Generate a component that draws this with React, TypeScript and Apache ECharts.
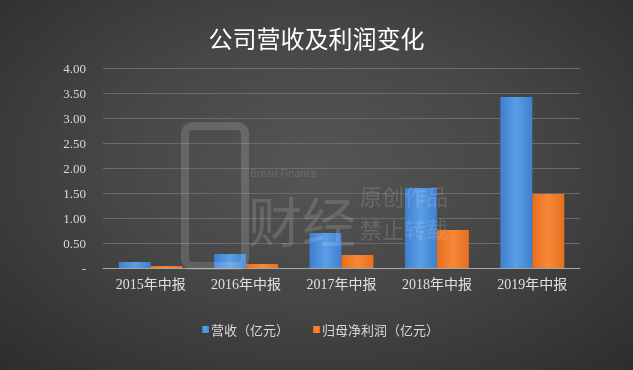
import React, { useEffect, useRef } from "react";
import * as echarts from "echarts";

const categories = ["2015年中报", "2016年中报", "2017年中报", "2018年中报", "2019年中报"];
const revenue = [0.12, 0.28, 0.7, 1.6, 3.42];
const profit = [0.04, 0.08, 0.26, 0.76, 1.48];
const seriesNames = ["营收（亿元）", "归母净利润（亿元）"];
const titleText = "公司营收及利润变化";

export default function App() {
  const ref = useRef<HTMLDivElement>(null);
  useEffect(() => {
    if (!ref.current) return;
    const chart = echarts.init(ref.current, undefined, { renderer: "svg" });
    const wm = "rgba(255,255,255,0.14)";
    chart.setOption({
      animation: false,
      backgroundColor: "transparent",
      title: {
        text: titleText,
        left: "center",
        top: 20,
        textStyle: {
          color: "#ffffff",
          fontSize: 24,
          fontWeight: "normal",
          fontFamily: "Noto Sans CJK SC",
        },
      },
      legend: {
        left: 197,
        top: 318,
        itemWidth: 7,
        itemHeight: 7,
        itemGap: 24,
        icon: "rect",
        textStyle: { color: "#d8d8d8", fontSize: 13, fontFamily: "Noto Sans CJK SC", padding: [0, 0, 0, -3] },
        data: seriesNames,
      },
      grid: { left: 103, right: 53, top: 68, bottom: 102 },
      xAxis: {
        type: "category",
        data: categories,
        axisTick: { show: false },
        axisLine: { lineStyle: { color: "#a6a6a6", width: 1 } },
        axisLabel: {
          color: "#e0e0e0",
          fontSize: 14,
          margin: 9,
          fontFamily: "Liberation Serif, Noto Sans CJK SC",
        },
      },
      yAxis: {
        type: "value",
        min: 0,
        max: 4,
        interval: 0.5,
        axisLine: { show: false },
        axisTick: { show: false },
        splitLine: { lineStyle: { color: "#6a6a6a", width: 1 } },
        axisLabel: {
          color: "#d8d8d8",
          fontSize: 13,
          margin: 17,
          fontFamily: "Liberation Serif",
          formatter: (v: number) => (v === 0 ? "-" : v.toFixed(2)),
        },
      },
      graphic: [
        {
          type: "rect",
          z: 100,
          shape: { x: 185, y: 126, width: 60, height: 140, r: 8 },
          style: { fill: "none", stroke: wm, lineWidth: 8 },
        },
        {
          type: "text",
          z: 100,
          left: 250,
          top: 168,
          style: { text: "Bread Finance", fill: wm, fontSize: 10, fontFamily: "Noto Sans" },
        },
        {
          type: "text",
          z: 100,
          left: 248,
          top: 192,
          style: { text: "财经", fill: wm, fontSize: 54, fontFamily: "Noto Sans CJK SC" },
        },
        {
          type: "text",
          z: 100,
          left: 360,
          top: 184,
          style: { text: "原创作品", fill: wm, fontSize: 22, fontFamily: "Noto Sans CJK SC" },
        },
        {
          type: "text",
          z: 100,
          left: 360,
          top: 217,
          style: { text: "禁止转载", fill: wm, fontSize: 22, fontFamily: "Noto Sans CJK SC" },
        },
      ],
      series: [
        {
          name: seriesNames[0],
          type: "bar",
          data: revenue,
          barGap: "0%",
          barCategoryGap: "33%",
          itemStyle: {
            color: new echarts.graphic.LinearGradient(0, 0, 1, 0, [
              { offset: 0, color: "#3f7fcf" },
              { offset: 0.5, color: "#5b9fe6" },
              { offset: 1, color: "#3f7fcf" },
            ]),
          },
        },
        {
          name: seriesNames[1],
          type: "bar",
          data: profit,
          itemStyle: {
            color: new echarts.graphic.LinearGradient(0, 0, 1, 0, [
              { offset: 0, color: "#e66f1e" },
              { offset: 0.5, color: "#f7883a" },
              { offset: 1, color: "#e66f1e" },
            ]),
          },
        },
      ],
    });
    return () => chart.dispose();
  }, []);
  return (
    <div
      style={{
        position: "fixed",
        left: 0,
        top: 0,
        width: 633,
        height: 370,
        background: "radial-gradient(ellipse at 50% 45%, #555555 0%, #474747 45%, #2d2d2d 100%)",
      }}
    >
      <div ref={ref} style={{ width: 633, height: 370 }} />
    </div>
  );
}
